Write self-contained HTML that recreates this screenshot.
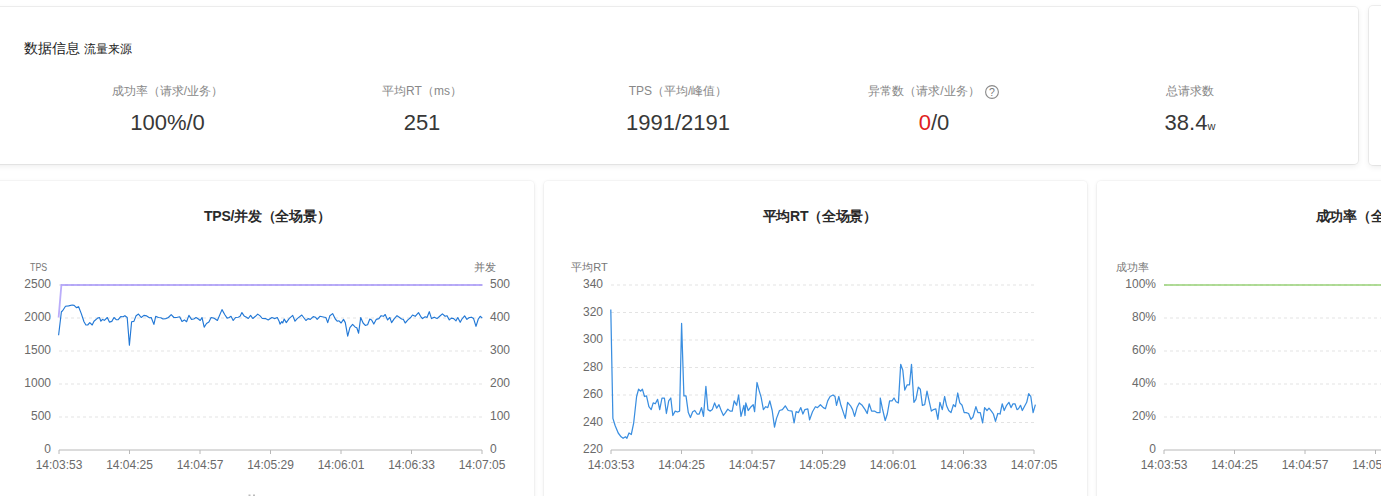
<!DOCTYPE html>
<html><head><meta charset="utf-8">
<style>
html,body{margin:0;padding:0;width:1381px;height:496px;overflow:hidden;background:#fff;font-family:"Liberation Sans",sans-serif;}
.card{position:absolute;background:#fff;border-radius:4px;box-shadow:0 0 0 1px rgba(0,0,0,0.025), 0 1px 4px rgba(0,0,0,0.08);}
.tc{box-shadow:0 0 0 1px rgba(0,0,0,0.06), 0 2px 6px rgba(0,0,0,0.08);}
.t{position:absolute;white-space:nowrap;}
.lab{position:absolute;font-size:12px;color:#888;white-space:nowrap;transform:translateX(-50%);top:82px;line-height:18px;}
.val{position:absolute;font-size:22px;color:#383838;white-space:nowrap;transform:translateX(-50%);top:108px;line-height:30px;}
svg{position:absolute;left:0;top:0;}
.g{stroke:#e3e3e3;stroke-width:1;stroke-dasharray:3 3;}
.ax{stroke:#b8b8b8;stroke-width:1;}
.al{font-size:12px;fill:#6a6a6a;font-family:"Liberation Sans",sans-serif;}
.an{font-size:11px;fill:#777;font-family:"Liberation Sans",sans-serif;}
.ct{font-size:14px;fill:#2a2a2a;font-weight:bold;letter-spacing:-0.25px;font-family:"Liberation Sans",sans-serif;}
.lp{fill:none;stroke:rgba(140,118,246,0.6);stroke-width:1.8;}
.lb{fill:none;stroke:#2278d6;stroke-width:1.15;stroke-linejoin:round;}
.lb2{fill:none;stroke:#3a8ee0;stroke-width:1.25;stroke-linejoin:round;}
.lg{fill:none;stroke:rgba(130,200,90,0.62);stroke-width:1.8;}
</style></head><body>
<div class="card tc" style="left:-9px;top:7px;width:1367px;height:157px;"></div>
<div class="card tc" style="left:1369px;top:6px;width:400px;height:159px;"></div>
<div class="card" style="left:-9px;top:181px;width:543px;height:400px;"></div>
<div class="card" style="left:544px;top:181px;width:543px;height:400px;"></div>
<div class="card" style="left:1097px;top:181px;width:543px;height:400px;"></div>

<div class="t" style="left:24px;top:38px;font-size:14px;color:#222;line-height:20px;font-weight:500;">数据信息 <span style="font-size:12px;">流量来源</span></div>

<div class="lab" style="left:167.5px;">成功率（请求/业务）</div>
<div class="val" style="left:167.5px;">100%/0</div>
<div class="lab" style="left:422px;">平均RT（ms）</div>
<div class="val" style="left:422px;">251</div>
<div class="lab" style="left:678px;">TPS（平均/峰值）</div>
<div class="val" style="left:678px;">1991/2191</div>
<div class="lab" style="left:934px;">异常数（请求/业务）<span style="display:inline-block;width:20px;"></span></div>
<div class="val" style="left:934px;"><span style="color:#e02020">0</span>/0</div>
<div class="lab" style="left:1190px;">总请求数</div>
<div class="val" style="left:1190px;">38.4<span style="font-size:11px;">w</span></div>

<svg width="1381" height="496" viewBox="0 0 1381 496">
<line x1="59" y1="285" x2="482" y2="285" class="g"/>
<line x1="59" y1="318" x2="482" y2="318" class="g"/>
<line x1="59" y1="351" x2="482" y2="351" class="g"/>
<line x1="59" y1="384" x2="482" y2="384" class="g"/>
<line x1="59" y1="417" x2="482" y2="417" class="g"/>
<line x1="59" y1="450" x2="482" y2="450" class="ax"/>
<line x1="59.0" y1="450" x2="59.0" y2="454" class="ax"/>
<text x="59.0" y="468.5" text-anchor="middle" class="al">14:03:53</text>
<line x1="129.5" y1="450" x2="129.5" y2="454" class="ax"/>
<text x="129.5" y="468.5" text-anchor="middle" class="al">14:04:25</text>
<line x1="200.0" y1="450" x2="200.0" y2="454" class="ax"/>
<text x="200.0" y="468.5" text-anchor="middle" class="al">14:04:57</text>
<line x1="270.5" y1="450" x2="270.5" y2="454" class="ax"/>
<text x="270.5" y="468.5" text-anchor="middle" class="al">14:05:29</text>
<line x1="341.0" y1="450" x2="341.0" y2="454" class="ax"/>
<text x="341.0" y="468.5" text-anchor="middle" class="al">14:06:01</text>
<line x1="411.5" y1="450" x2="411.5" y2="454" class="ax"/>
<text x="411.5" y="468.5" text-anchor="middle" class="al">14:06:33</text>
<line x1="482.0" y1="450" x2="482.0" y2="454" class="ax"/>
<text x="482.0" y="468.5" text-anchor="middle" class="al">14:07:05</text>
<text x="51" y="288" text-anchor="end" class="al">2500</text>
<text x="51" y="321" text-anchor="end" class="al">2000</text>
<text x="51" y="354" text-anchor="end" class="al">1500</text>
<text x="51" y="387" text-anchor="end" class="al">1000</text>
<text x="51" y="420" text-anchor="end" class="al">500</text>
<text x="51" y="453" text-anchor="end" class="al">0</text>
<text x="490" y="288" text-anchor="start" class="al">500</text>
<text x="490" y="321" text-anchor="start" class="al">400</text>
<text x="490" y="354" text-anchor="start" class="al">300</text>
<text x="490" y="387" text-anchor="start" class="al">200</text>
<text x="490" y="420" text-anchor="start" class="al">100</text>
<text x="490" y="453" text-anchor="start" class="al">0</text>
<text x="30" y="271" textLength="17.2" lengthAdjust="spacingAndGlyphs" class="an">TPS</text>
<text x="485" y="271" text-anchor="middle" class="an">并发</text>
<polyline points="58.6,317.5 61.4,285 482.5,285" class="lp"/>
<polyline points="58.6,335.3 61.4,311.7 62.6,310.8 65.5,306.3 68.6,305.9 72.2,305.0 74.1,305.4 76.4,307.6 78.6,306.7 81.3,313.6 84.0,321.7 85.9,325.0 87.7,325.0 89.8,322.6 92.2,325.0 94.0,321.2 97.6,318.1 99.5,317.5 100.9,321.2 102.5,319.4 104.4,320.3 107.3,317.5 109.4,322.1 111.8,321.4 114.0,317.5 116.2,319.7 118.2,319.7 120.7,316.6 123.1,316.8 124.9,315.7 127.2,317.5 129.4,345.3 131.6,321.7 133.9,321.4 136.1,315.7 138.5,314.1 141.2,317.5 143.9,315.4 146.7,315.9 149.4,317.7 151.2,317.5 153.9,324.4 155.7,316.3 158.4,317.5 160.8,317.7 163.0,319.0 165.7,318.6 168.4,317.5 171.2,314.6 173.9,317.5 176.6,317.5 179.7,316.8 182.0,321.4 184.4,319.9 186.6,321.7 188.9,315.4 191.5,319.4 193.8,319.0 196.0,317.5 198.4,319.0 200.2,320.5 202.0,317.5 204.2,327.2 206.5,323.5 208.9,322.1 211.1,317.5 213.8,318.1 217.4,320.5 222.0,309.6 224.7,314.5 227.1,318.1 229.2,317.5 231.0,316.3 233.2,320.5 235.6,317.5 238.3,317.2 240.1,316.3 241.9,312.6 244.1,315.9 246.5,317.2 248.3,318.5 250.6,315.4 252.8,318.5 255.5,316.3 257.7,314.1 260.1,315.9 262.3,318.5 265.5,318.6 268.2,319.9 271.9,317.5 274.9,318.6 277.3,317.5 279.1,321.2 280.0,324.1 281.8,321.7 282.7,323.0 284.2,319.0 286.3,322.6 289.1,318.6 292.7,315.4 295.0,321.2 297.2,318.6 301.8,315.0 305.9,320.5 308.1,318.6 310.3,319.4 313.2,316.6 315.4,317.2 317.2,319.4 319.9,316.3 324.4,317.2 325.9,317.5 327.7,322.6 329.9,315.7 332.6,313.6 335.3,319.0 337.2,321.2 339.0,320.8 341.1,323.0 343.5,319.4 345.3,322.6 347.7,336.2 349.9,327.7 352.6,324.4 355.3,327.2 356.8,327.7 358.6,333.2 360.7,317.5 363.1,323.0 365.3,325.4 367.6,324.8 369.8,319.0 371.6,319.9 373.8,324.1 376.2,319.4 378.9,318.6 381.1,315.7 383.4,316.3 385.2,314.5 387.6,319.9 389.8,317.5 391.6,322.6 394.3,318.6 397.0,315.7 399.2,317.2 401.6,319.0 403.4,319.4 405.2,323.0 407.9,319.9 410.7,317.5 412.5,315.0 415.2,316.3 418.5,312.6 420.6,316.3 422.5,318.6 425.2,316.8 427.0,317.5 429.3,311.7 431.5,318.6 434.2,317.2 437.0,318.6 439.7,316.3 442.4,313.9 445.1,316.3 447.0,315.7 449.3,319.9 451.5,318.1 453.7,318.6 456.0,320.8 457.8,317.5 460.2,322.3 462.0,319.0 464.6,315.9 466.9,319.4 469.3,317.5 471.5,317.2 473.6,318.6 476.0,326.3 478.3,319.0 480.2,316.3 482.3,318.1" class="lb"/>
<text x="267.2" y="220.5" text-anchor="middle" class="ct">TPS/并发（全场景）</text>
<line x1="611" y1="285" x2="1034" y2="285" class="g"/>
<line x1="611" y1="312.5" x2="1034" y2="312.5" class="g"/>
<line x1="611" y1="340" x2="1034" y2="340" class="g"/>
<line x1="611" y1="367.5" x2="1034" y2="367.5" class="g"/>
<line x1="611" y1="395" x2="1034" y2="395" class="g"/>
<line x1="611" y1="422.5" x2="1034" y2="422.5" class="g"/>
<line x1="611" y1="450" x2="1034" y2="450" class="ax"/>
<line x1="611.0" y1="450" x2="611.0" y2="454" class="ax"/>
<text x="611.0" y="468.5" text-anchor="middle" class="al">14:03:53</text>
<line x1="681.5" y1="450" x2="681.5" y2="454" class="ax"/>
<text x="681.5" y="468.5" text-anchor="middle" class="al">14:04:25</text>
<line x1="752.0" y1="450" x2="752.0" y2="454" class="ax"/>
<text x="752.0" y="468.5" text-anchor="middle" class="al">14:04:57</text>
<line x1="822.5" y1="450" x2="822.5" y2="454" class="ax"/>
<text x="822.5" y="468.5" text-anchor="middle" class="al">14:05:29</text>
<line x1="893.0" y1="450" x2="893.0" y2="454" class="ax"/>
<text x="893.0" y="468.5" text-anchor="middle" class="al">14:06:01</text>
<line x1="963.5" y1="450" x2="963.5" y2="454" class="ax"/>
<text x="963.5" y="468.5" text-anchor="middle" class="al">14:06:33</text>
<line x1="1034.0" y1="450" x2="1034.0" y2="454" class="ax"/>
<text x="1034.0" y="468.5" text-anchor="middle" class="al">14:07:05</text>
<text x="603" y="288" text-anchor="end" class="al">340</text>
<text x="603" y="315.5" text-anchor="end" class="al">320</text>
<text x="603" y="343" text-anchor="end" class="al">300</text>
<text x="603" y="370.5" text-anchor="end" class="al">280</text>
<text x="603" y="398" text-anchor="end" class="al">260</text>
<text x="603" y="425.5" text-anchor="end" class="al">240</text>
<text x="603" y="453" text-anchor="end" class="al">220</text>
<text x="589.5" y="271" text-anchor="middle" class="an">平均RT</text>
<polyline points="610.8,309.4 612.9,418.4 615.2,425.7 618.2,433.0 621.1,436.8 623.1,438.3 625.5,436.8 626.9,438.3 629.0,433.0 631.3,434.5 633.7,422.8 636.6,396.5 638.6,389.2 640.7,391.2 642.4,389.2 644.5,396.5 646.5,395.9 648.9,406.7 651.2,409.6 653.2,402.9 655.3,403.8 657.6,399.4 659.7,409.6 662.0,398.0 664.4,398.0 666.4,413.5 668.7,400.9 670.8,398.0 672.8,415.5 675.2,411.1 677.5,412.0 679.6,411.1 681.6,323.4 683.9,395.9 686.0,395.9 688.3,412.6 690.4,417.5 692.7,411.7 694.8,410.5 697.1,414.0 699.2,414.0 701.5,407.6 703.5,416.4 705.9,386.3 707.9,409.6 710.3,411.1 712.3,409.6 714.6,402.9 716.7,408.2 719.0,404.7 721.4,411.1 723.4,415.5 725.5,412.6 727.8,409.1 730.1,411.1 732.2,411.1 734.2,400.9 736.6,405.3 738.6,395.0 741.0,416.4 743.9,405.3 745.0,415.5 745.8,402.9 748.2,410.5 751.1,406.7 753.2,404.7 754.6,411.7 757.0,382.5 759.0,390.1 761.1,397.1 763.4,409.6 765.7,406.7 767.8,407.6 769.8,400.9 772.2,410.5 774.5,427.2 776.5,418.4 779.5,410.5 782.4,409.6 785.3,405.8 788.2,410.5 792.0,411.1 794.1,422.8 796.1,411.7 798.5,412.6 800.8,407.6 802.9,414.0 804.9,409.6 807.8,408.8 809.6,419.9 812.5,411.7 815.4,406.7 817.5,407.6 820.4,404.7 823.3,407.6 825.4,408.8 827.7,400.9 830.1,396.5 833.0,395.0 835.0,396.5 836.5,405.3 838.8,396.5 840.9,405.3 842.9,411.1 845.3,418.4 847.6,402.3 850.5,405.8 852.6,409.6 854.6,416.4 857.0,407.6 859.3,402.9 862.2,405.3 865.1,409.6 867.2,413.5 869.2,403.8 871.6,411.1 874.5,411.1 876.8,412.6 880.0,412.6 880.3,398.0 882.3,408.2 885.2,420.5 887.3,414.0 889.6,400.9 892.0,400.9 894.0,398.0 896.1,401.8 898.4,402.9 900.7,364.3 902.8,370.2 904.8,390.1 907.2,384.8 909.5,384.8 911.5,364.3 913.9,402.3 915.9,399.4 918.3,387.1 920.3,389.2 922.4,405.3 924.7,404.7 927.0,391.2 929.1,400.9 931.4,411.1 933.5,409.6 935.8,408.8 937.9,419.3 939.9,402.3 942.3,409.6 944.6,396.5 946.6,405.8 948.7,410.5 951.0,412.6 953.4,404.7 955.4,406.7 957.7,393.0 959.8,402.9 962.1,405.3 964.2,412.6 966.2,412.6 968.6,413.5 970.9,419.3 973.0,417.0 975.9,406.7 977.9,412.6 980.3,412.6 982.6,422.8 984.6,407.6 987.0,410.5 989.0,408.2 991.4,411.1 993.4,414.0 995.5,421.3 997.8,413.5 1000.1,414.0 1002.2,403.8 1004.2,410.5 1006.6,405.3 1008.9,402.3 1011.0,407.6 1013.0,403.8 1015.0,403.8 1017.0,409.6 1018.5,408.8 1020.5,405.3 1022.3,410.5 1024.3,406.7 1026.7,402.3 1028.7,393.6 1030.8,396.5 1033.1,412.6 1035.4,404.7" class="lb2"/>
<text x="819.8" y="220.5" text-anchor="middle" class="ct">平均RT（全场景）</text>
<line x1="1164" y1="285" x2="1587" y2="285" class="g"/>
<line x1="1164" y1="318" x2="1587" y2="318" class="g"/>
<line x1="1164" y1="351" x2="1587" y2="351" class="g"/>
<line x1="1164" y1="384" x2="1587" y2="384" class="g"/>
<line x1="1164" y1="417" x2="1587" y2="417" class="g"/>
<line x1="1164" y1="450" x2="1587" y2="450" class="ax"/>
<line x1="1164.0" y1="450" x2="1164.0" y2="454" class="ax"/>
<text x="1164.0" y="468.5" text-anchor="middle" class="al">14:03:53</text>
<line x1="1234.5" y1="450" x2="1234.5" y2="454" class="ax"/>
<text x="1234.5" y="468.5" text-anchor="middle" class="al">14:04:25</text>
<line x1="1305.0" y1="450" x2="1305.0" y2="454" class="ax"/>
<text x="1305.0" y="468.5" text-anchor="middle" class="al">14:04:57</text>
<line x1="1375.5" y1="450" x2="1375.5" y2="454" class="ax"/>
<text x="1375.5" y="468.5" text-anchor="middle" class="al">14:05:29</text>
<line x1="1446.0" y1="450" x2="1446.0" y2="454" class="ax"/>
<text x="1446.0" y="468.5" text-anchor="middle" class="al">14:06:01</text>
<line x1="1516.5" y1="450" x2="1516.5" y2="454" class="ax"/>
<text x="1516.5" y="468.5" text-anchor="middle" class="al">14:06:33</text>
<line x1="1587.0" y1="450" x2="1587.0" y2="454" class="ax"/>
<text x="1587.0" y="468.5" text-anchor="middle" class="al">14:07:05</text>
<text x="1156" y="288" text-anchor="end" class="al">100%</text>
<text x="1156" y="321" text-anchor="end" class="al">80%</text>
<text x="1156" y="354" text-anchor="end" class="al">60%</text>
<text x="1156" y="387" text-anchor="end" class="al">40%</text>
<text x="1156" y="420" text-anchor="end" class="al">20%</text>
<text x="1156" y="453" text-anchor="end" class="al">0</text>
<text x="1132.5" y="271" text-anchor="middle" class="an">成功率</text>
<polyline points="1164,285 1587,285" class="lg"/>
<text x="1370.6" y="220.5" text-anchor="middle" class="ct">成功率（全场景）</text>
<circle cx="992" cy="92" r="6.4" fill="none" stroke="#8a8a8a" stroke-width="1.1"/>
<text x="992" y="96.2" text-anchor="middle" style="font-size:10.5px;fill:#7a7a7a;font-family:Liberation Sans,sans-serif;">?</text>
<rect x="248.5" y="494.5" width="2" height="1.5" fill="#bbb"/><rect x="253" y="494.5" width="2" height="1.5" fill="#bbb"/>
</svg>
</body></html>
